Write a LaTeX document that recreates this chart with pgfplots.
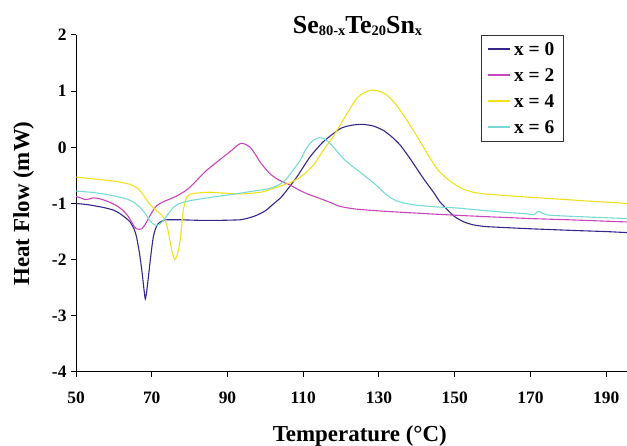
\documentclass[border=0pt]{standalone}
\usepackage{fontspec}
\setmainfont{Liberation Serif}
\usepackage{pgfplots}
\pgfplotsset{compat=1.18}
\definecolor{cA}{RGB}{52,40,140}
\definecolor{cB}{RGB}{200,70,190}
\definecolor{cC}{RGB}{240,225,30}
\definecolor{cD}{RGB}{120,218,210}
\newcommand{\sub}[1]{\raisebox{-2.5bp}{\fontsize{14.5}{16}\selectfont #1}}
\begin{document}
\begin{tikzpicture}[x=1bp,y=1bp]
\useasboundingbox (0,0) rectangle (627,446);
\begin{axis}[
  at={(76bp,74bp)}, anchor=south west,
  scale only axis, width=551bp, height=337bp,
  xmin=50, xmax=195.5, ymin=-4, ymax=2,
  axis x line*=bottom, axis y line*=left,
  axis line style={black, line width=1bp},
  xtick={50,70,...,190}, ytick={-4,-3,...,2},
  tick align=outside, major tick length=5bp,
  tick style={black, line width=1bp},
  /pgf/number format/assume math mode=true,
  ticklabel style={font=\fontsize{17.5}{20}\selectfont\bfseries},
  xticklabel style={yshift=-11bp},
  yticklabel style={xshift=-1bp},
  xlabel={Temperature (°C)},
  ylabel={Heat Flow (mW)},
  label style={font=\fontsize{23}{26}\selectfont\bfseries},
  xlabel style={at={(axis description cs:0.515,0)}, anchor=base, yshift=-70bp},
  ylabel style={at={(axis description cs:-0.095,0.5)}, anchor=center, rotate=0},
  legend style={at={(axis description cs:0.735,1)}, anchor=north west,
    draw=black!80, line width=1bp, inner xsep=6bp, inner ysep=4bp,
    font=\fontsize{19.5}{22}\selectfont\bfseries,
    nodes={text height=14bp, text depth=1bp, inner ysep=2.5bp, inner xsep=3bp},
    row sep=6bp},
  legend cell align=left,
  legend image code/.code={\draw[#1, line width=1.6bp] (0bp,0.5bp) -- (22bp,0.5bp);},
  every axis plot/.append style={line width=1.1bp, smooth, tension=0.35},
  clip=true,
]
\addplot[cA] coordinates {
(50,-1.00)(53,-1.02)(57.2,-1.07)(60,-1.12)(61.6,-1.18)(63,-1.25)(64.3,-1.33)
(65.3,-1.45)(66.0,-1.60)(66.8,-1.90)(67.4,-2.20)(67.9,-2.50)(68.3,-2.70)(68.7,-2.55)
(69.3,-2.20)(69.8,-1.90)(70.4,-1.60)(71,-1.45)(71.7,-1.36)(72.8,-1.31)(74.0,-1.29)
(77.5,-1.29)(82.7,-1.30)(88,-1.30)(93.3,-1.29)(95.5,-1.26)(97.7,-1.21)(100,-1.13)
(102.1,-1.01)(104,-0.90)(105.6,-0.77)(108.3,-0.53)(111.8,-0.17)(115.3,0.10)
(119.7,0.33)(122.5,0.39)(125.5,0.41)(128.5,0.38)(131.2,0.30)(133.5,0.18)(135.6,0.04)
(138,-0.18)(140.0,-0.38)(142,-0.58)(144.4,-0.80)(146.1,-0.97)(148.2,-1.12)(150.1,-1.24)
(152.5,-1.33)(154.9,-1.38)(158,-1.41)(163.7,-1.43)(170,-1.45)(181.3,-1.48)(190,-1.50)(196,-1.52)
};
\addlegendentry{x = 0}
\addplot[cB] coordinates {
(50,-0.875)(51.2,-0.90)(52.4,-0.93)(53.5,-0.92)(54.6,-0.90)(56.5,-0.92)(59.0,-0.98)
(61,-1.05)(62.5,-1.13)(63.8,-1.23)(64.7,-1.33)(65.4,-1.41)(66.0,-1.45)(66.7,-1.46)
(67.4,-1.45)(68.3,-1.37)(69.1,-1.27)(70.2,-1.14)(71.3,-1.04)(73,-0.97)(74.8,-0.92)
(76.5,-0.87)(78.3,-0.80)(80.1,-0.71)(82.7,-0.53)(84.5,-0.41)(86.7,-0.29)(88.9,-0.17)
(91,-0.06)(92.5,0.03)(93.5,0.07)(94.5,0.06)(96.0,0.0)(97.3,-0.12)(98.6,-0.26)
(100,-0.38)(101.2,-0.47)(103,-0.56)(104.7,-0.62)(106.5,-0.67)(109.2,-0.77)(111.5,-0.84)
(113.6,-0.89)(117.1,-0.98)(119.2,-1.04)(121,-1.07)(124,-1.10)(128.5,-1.125)(135.6,-1.155)
(150.5,-1.21)(163.7,-1.25)(170.7,-1.27)(180,-1.29)(196,-1.33)
};
\addlegendentry{x = 2}
\addplot[cC] coordinates {
(50,-0.53)(57.2,-0.58)(61,-0.61)(64.3,-0.66)(65.8,-0.71)(66.9,-0.77)(68,-0.87)
(69.1,-0.98)(70.2,-1.06)(71.3,-1.13)(72.5,-1.20)(73.5,-1.30)(74.2,-1.45)(74.8,-1.66)
(75.5,-1.90)(76.1,-2.00)(76.8,-1.90)(77.5,-1.66)(77.9,-1.40)(78.3,-1.13)(78.8,-0.97)
(79.2,-0.89)(80,-0.84)(81.0,-0.82)(82.7,-0.81)(85.4,-0.80)(90,-0.82)(93.3,-0.83)
(96,-0.82)(99.5,-0.79)(103.0,-0.71)(106.5,-0.63)(108.8,-0.55)(110.9,-0.44)(113,-0.29)
(115.3,-0.05)(117.5,0.15)(119.7,0.39)(122,0.65)(124.1,0.87)(126,0.97)(128.1,1.02)
(130,1.00)(132.1,0.93)(134.3,0.78)(136.5,0.57)(138.7,0.34)(140.9,0.10)(143.1,-0.15)
(145.3,-0.38)(147.8,-0.55)(150.5,-0.68)(152.5,-0.75)(154.9,-0.80)(158,-0.83)
(163.7,-0.86)(170,-0.89)(177.0,-0.92)(186,-0.96)(196,-1.00)
};
\addlegendentry{x = 4}
\addplot[cD] coordinates {
(50,-0.78)(54,-0.80)(57.2,-0.83)(60.5,-0.87)(63.4,-0.92)(65.3,-0.98)(66.9,-1.07)
(68.3,-1.18)(69.5,-1.30)(70.3,-1.36)(71.1,-1.39)(72,-1.37)(73.1,-1.30)(74.4,-1.18)
(75.7,-1.07)(77,-1.01)(78.3,-0.98)(80.1,-0.95)(82.7,-0.92)(85.8,-0.89)(88.9,-0.86)
(93,-0.82)(97.7,-0.77)(100,-0.75)(102.1,-0.71)(104,-0.65)(105.6,-0.56)(107.4,-0.40)
(109.2,-0.23)(110.5,-0.06)(111.8,0.07)(113,0.14)(114.2,0.17)(115.3,0.16)(116.2,0.12)
(117.1,0.07)(118.8,-0.06)(120.6,-0.20)(122.8,-0.33)(125.0,-0.44)(127.2,-0.56)
(129.4,-0.68)(131.2,-0.80)(132.9,-0.89)(134.6,-0.95)(136.4,-0.99)(140,-1.03)
(145,-1.06)(150.5,-1.08)(157,-1.12)(163.7,-1.16)(168.5,-1.18)(170.8,-1.20)
(171.5,-1.17)(171.9,-1.14)(172.6,-1.15)(173.4,-1.18)(175.2,-1.21)(185,-1.24)(196,-1.27)
};
\addlegendentry{x = 6}
\end{axis}
\node[anchor=base west, inner sep=0pt, font=\fontsize{26}{30}\selectfont\bfseries]
  at (292.7,412.7) {Se\sub{80-x}Te\sub{20}Sn\sub{x}};
\end{tikzpicture}
\end{document}
